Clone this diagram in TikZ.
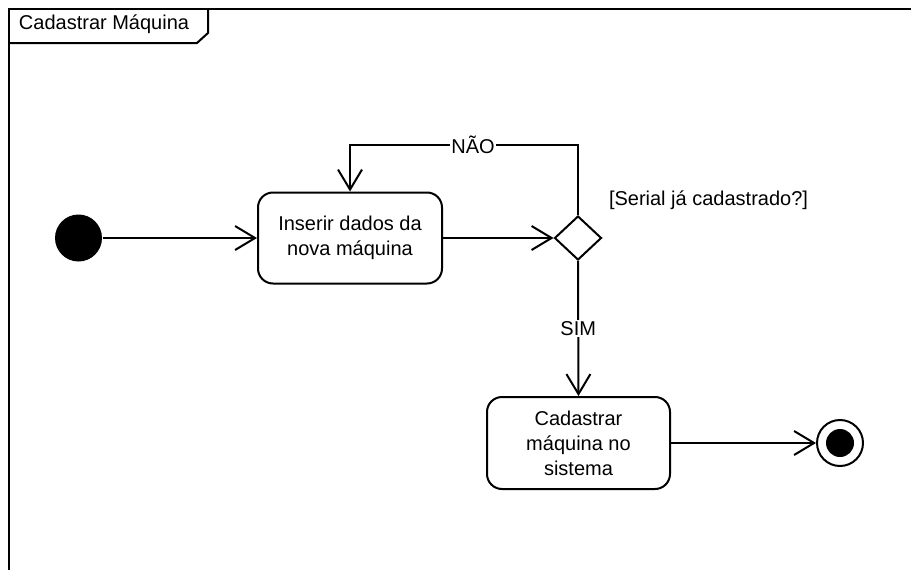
\documentclass[tikz,border=0pt]{standalone}
\usepackage{fontspec}
\setmainfont{Liberation Sans}
\usetikzlibrary{arrows.meta,shapes.geometric}
\begin{document}
\begin{tikzpicture}[x=1pt,y=-1pt, line width=2pt,
  act/.style={draw, rounded corners=15pt, minimum width=184pt, minimum height=91pt, align=center, font=\fontsize{20}{25}\selectfont, inner sep=0pt},
  lbl/.style={font=\fontsize{20}{24}\selectfont, fill=white, inner sep=1pt},
  txt/.style={font=\fontsize{20}{24}\selectfont, inner sep=0pt},
  flow/.style={-{Straight Barb[length=20pt,width=24pt]}}]
\useasboundingbox (0,0) rectangle (911,570);
% frame
\draw (9,570) -- (9,9) -- (911,9);
\draw (9,43) -- (197,43) -- (208,33) -- (208,9);
\node[txt, anchor=west] (title) at (18,24) {Cadastrar Máquina};
% nodes
\node[circle, fill=black, minimum size=47pt, inner sep=0pt] (init) at (78.5,238) {};
\node[act] (a1) at (350,238) {Inserir dados da\\nova máquina};
\node[diamond, draw, minimum width=47pt, minimum height=44pt, inner sep=0pt] (dec) at (578,238) {};
\node[txt, anchor=west] (guard) at (608,200) {[Serial já cadastrado?]};
\node[act, minimum width=183pt, minimum height=92pt] (a2) at (578.5,443) {Cadastrar\\máquina no\\sistema};
\node[circle, draw, minimum size=46pt, inner sep=0pt] (fin) at (840,443) {};
\node[circle, fill=black, minimum size=28pt, inner sep=0pt] (finin) at (840,443) {};
\coordinate (loop) at (578,145);
% edges
\draw[flow] (init.east) -- (init.east -| a1.west);
\draw[flow] (a1.east |- dec.west) -- (dec.west);
\draw[flow] (dec.north) -- (loop) -| node[lbl, pos=0.23] (nao) {NÃO} (a1.north);
\draw[flow] (dec.south) -- node[lbl] (sim) {SIM} (a2.north);
\draw[flow] (a2.east) -- (fin.west);
\end{tikzpicture}
\end{document}
